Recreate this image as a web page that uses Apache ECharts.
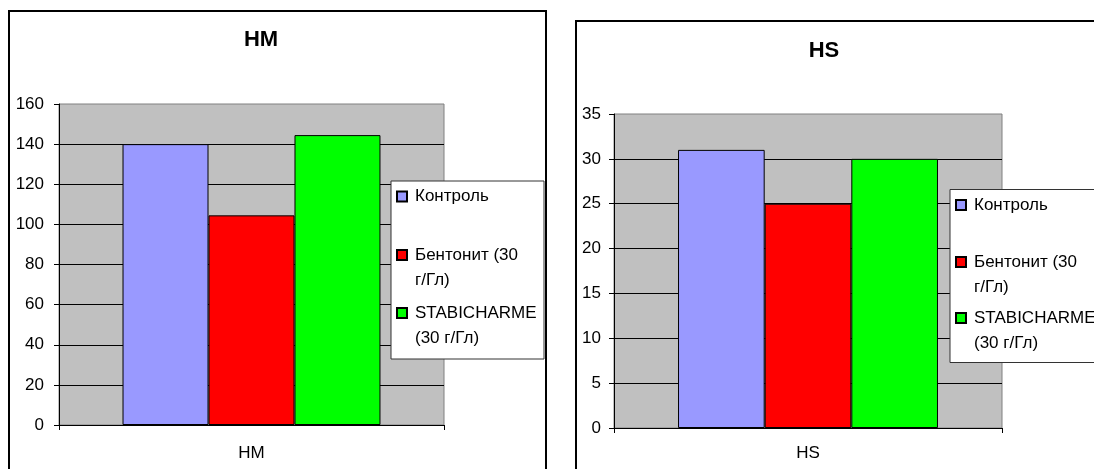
<!DOCTYPE html>
<html>
<head>
<meta charset="utf-8">
<script src="https://cdn.jsdelivr.net/npm/echarts@6/dist/echarts.min.js"></script>
<style>
html,body{margin:0;padding:0;background:#fff;}
#chart{width:1094px;height:469px;}
</style>
</head>
<body>
<div id="chart"></div>
<script>
// ---- data ----
const seriesNames = ['Контроль', 'Бентонит (30 г/Гл)', 'STABICHARME (30 г/Гл)'];
const legendLabels = ['Контроль', '\nБентонит (30\nг/Гл)', '\nSTABICHARME\n(30 г/Гл)'];
const seriesColors = ['#9999FF', '#FF0000', '#00FF00'];
const hmCategories = ['HM'];
const hsCategories = ['HS'];
const hmValues = [140, 104.5, 144.5];
const hsValues = [31, 25, 30];
const hmTitle = 'HM';
const hsTitle = 'HS';

const FONT = '"Liberation Sans", Arial, sans-serif';
const chart = echarts.init(document.getElementById('chart'), null, {renderer: 'canvas'});

function yAxis(gridIndex, max, interval, margin) {
  return {
    type: 'value', gridIndex, min: 0, max, interval,
    axisLine: {show: true, lineStyle: {color: '#000', width: 1}},
    axisTick: {show: true, length: 5, lineStyle: {color: '#000'}},
    axisLabel: {color: '#000', fontSize: 17, fontFamily: FONT, margin},
    splitLine: {show: true, showMaxLine: false, lineStyle: {color: '#000', width: 1}}
  };
}
function xAxis(gridIndex, data, margin) {
  return {
    type: 'category', gridIndex, data,
    axisLine: {show: true, lineStyle: {color: '#000', width: 1}},
    axisTick: {show: true, length: 5, alignWithLabel: false, lineStyle: {color: '#000'}},
    axisLabel: {color: '#000', fontSize: 17, fontFamily: FONT, margin},
    splitLine: {show: false}
  };
}

const series = [];
seriesNames.forEach((name, i) => {
  series.push({
    type: 'bar', name, xAxisIndex: 0, yAxisIndex: 0,
    data: [hmValues[i]], barGap: '0%', barCategoryGap: '33%',
    itemStyle: {color: seriesColors[i], borderColor: '#000', borderWidth: 1},
    emphasis: {disabled: true}, animation: false
  });
});
seriesNames.forEach((name, i) => {
  series.push({
    type: 'bar', name, xAxisIndex: 1, yAxisIndex: 1,
    data: [hsValues[i]], barGap: '0%', barCategoryGap: '33%',
    itemStyle: {color: seriesColors[i], borderColor: '#000', borderWidth: 1},
    emphasis: {disabled: true}, animation: false
  });
});

// legend layout (one legend per entry so the marker sits on the first text line)
const leftLegendX = 396;
const rightLegendX = 955;
const leftLegendCenters = [196.5, 255, 313];
const rightLegendCenters = [205, 262, 318];
const legends = [];
function addLegend(x, centers) {
  seriesNames.forEach((name, i) => {
    const lines = legendLabels[i].split('\n').length;
    legends.push({
      data: [name], orient: 'vertical', left: x,
      top: centers[i] - (lines === 1 ? 12.5 : 37.5),
      padding: 0, itemWidth: 10, itemHeight: 10, icon: 'rect',
      selectedMode: false, z: 10,
      formatter: () => legendLabels[i],
      textStyle: {color: '#000', fontSize: 17, fontFamily: FONT, lineHeight: 25, padding: [0, 0, 0, 3]}
    });
  });
}
addLegend(leftLegendX, leftLegendCenters);
addLegend(rightLegendX, rightLegendCenters);

const option = {
  animation: false,
  backgroundColor: '#fff',
  title: [
    {text: hmTitle, left: 261, top: 29, textAlign: 'center', padding: 0,
     textStyle: {fontSize: 22, fontWeight: 'bold', color: '#000', fontFamily: FONT}},
    {text: hsTitle, left: 824, top: 40, textAlign: 'center', padding: 0,
     textStyle: {fontSize: 22, fontWeight: 'bold', color: '#000', fontFamily: FONT}}
  ],
  grid: [
    {left: 59, top: 104, width: 385, height: 321, show: true,
     backgroundColor: '#C0C0C0', borderColor: '#808080', borderWidth: 1, containLabel: false},
    {left: 614, top: 114, width: 388, height: 314, show: true,
     backgroundColor: '#C0C0C0', borderColor: '#808080', borderWidth: 1, containLabel: false}
  ],
  xAxis: [xAxis(0, hmCategories, 20), xAxis(1, hsCategories, 17)],
  yAxis: [yAxis(0, 160, 20, 15), yAxis(1, 35, 5, 13)],
  legend: legends,
  graphic: [
    {type: 'rect', z: -10, shape: {x: 9, y: 11, width: 537, height: 480},
     style: {fill: 'none', stroke: '#000', lineWidth: 2}, silent: true},
    {type: 'rect', z: -10, shape: {x: 576, y: 21, width: 560, height: 480},
     style: {fill: 'none', stroke: '#000', lineWidth: 2}, silent: true},
    {type: 'rect', z: 3, shape: {x: 391, y: 181, width: 153, height: 178},
     style: {fill: '#fff', stroke: '#333', lineWidth: 1}, silent: true},
    {type: 'rect', z: 3, shape: {x: 950, y: 189.5, width: 200, height: 173},
     style: {fill: '#fff', stroke: '#333', lineWidth: 1}, silent: true}
  ],
  series
};
chart.setOption(option);
</script>
</body>
</html>
